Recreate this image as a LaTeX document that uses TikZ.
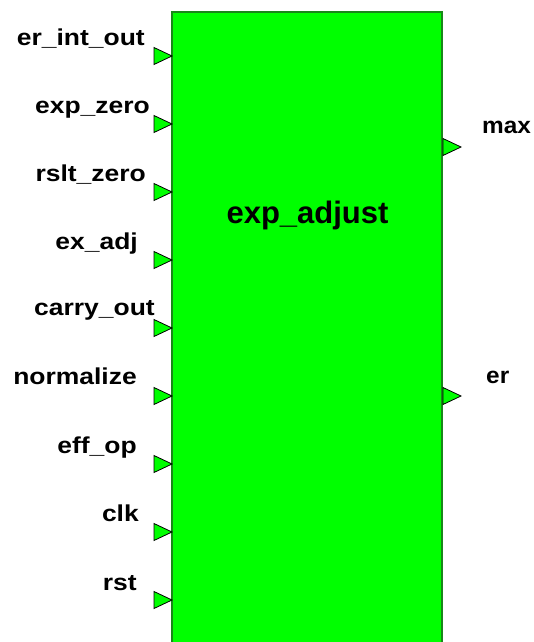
\documentclass[tikz,border=0pt]{standalone}
\usepackage{fontspec}
\setmainfont{Liberation Sans}

\definecolor{blockgreen}{RGB}{0,255,0}
\definecolor{edgegreen}{RGB}{25,135,25}

\tikzset{
  pin/.style={draw=black, fill=blockgreen, line width=0.8pt, line join=miter},
  portlabel/.style={font=\bfseries\fontsize{23}{23}\selectfont, inner sep=0pt, xscale=1.15},
  outlabel/.style={portlabel, xscale=1.06/1.15},
}

\begin{document}
\begin{tikzpicture}[x=1pt, y=-1pt]
\useasboundingbox (0,0) rectangle (534,642);
\clip (0,0) rectangle (534,642);
% the block, running off the bottom
\draw [edgegreen, fill=blockgreen, line width=2pt] (172,12) rectangle (442,660);
\node (title) [font=\bfseries\fontsize{31}{31}\selectfont, inner sep=0pt, anchor=base] at (307.5,223) {exp\_adjust};
% input ports: label / pin centre / label right edge / baseline
\foreach \lbl/\y/\xr/\yb [count=\i] in {er\_int\_out/56/145/46, exp\_zero/124/150/113,
    rslt\_zero/192/146/181, ex\_adj/260/138/249, carry\_out/328/155/315,
    normalize/396/137/384, eff\_op/464/137/453, clk/532/139/521, rst/600/137/590} {
  \draw [pin] (154,\y-8.5) -- (172,\y) -- (154,\y+8.5) -- cycle;
  \node (in\i) [portlabel, anchor=base east] at (\xr,\yb) {\lbl};
}
% output ports
\foreach \lbl/\y/\xl/\yb [count=\i] in {max/147/482/133, er/396/486/383} {
  \draw [pin] (443,\y-8.5) -- (461,\y) -- (443,\y+8.5) -- cycle;
  \node (out\i) [outlabel, anchor=base west] at (\xl,\yb) {\lbl};
}
\end{tikzpicture}
\end{document}
